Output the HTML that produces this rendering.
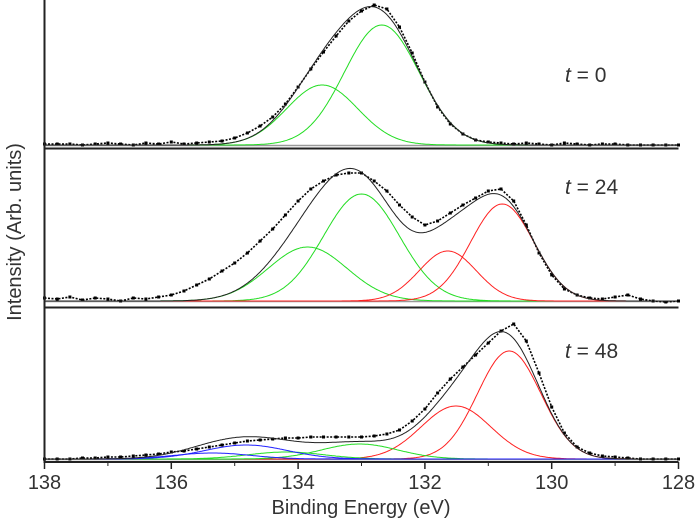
<!DOCTYPE html>
<html><head><meta charset="utf-8">
<style>
html,body{margin:0;padding:0;background:#fff;}
svg{display:block;font-family:"Liberation Sans",Arial,sans-serif;}
</style></head>
<body>
<svg id="chart" width="697" height="523" viewBox="0 0 697 523" xmlns="http://www.w3.org/2000/svg">
<g id="panels"></g>
<g id="axes"></g>
<text x="361" y="514" font-size="20" fill="#333" text-anchor="middle">Binding Energy (eV)</text>
<text transform="translate(21,232) rotate(-90)" font-size="20" fill="#333" text-anchor="middle">Intensity (Arb. units)</text>
</svg>
<script>
// ----- data -----
const xTicks = [138,136,134,132,130,128];
const xMinor = [137,135,133,131,129];
const panelLabels = ["0","24","48"];
// measured data, energies 138 -> 128 in 0.2 eV steps
const energies = [];
for (let i = 0; i <= 50; i++) energies.push(+(138 - i*0.2).toFixed(1));
const dataT0 = [1,1,1,0,1,2,1,0,2,1,3,1,2,3,4,7,12,19,28,41,58,76,93,109,124,134,140,136,118,92,63,38,21,11,5,3,2,1,2,1,0,2,1,0,1,1,0,0,0,0,0];
const dataT24 = [3,2,4,1,3,2,0,3,2,4,6,10,16,22,30,38,48,60,72,86,100,112,120,126,128,128,120,110,96,84,76,80,88,96,103,110,112,100,76,48,26,12,6,3,2,4,6,2,0,-1,0];
const dataT48 = [0,0,0,1,1,2,2,3,4,5,7,8,10,12,14,16,18,19,20,21,21,22,22,22,22,22,23,25,29,38,50,66,80,92,104,116,128,135,118,86,52,26,12,6,3,2,1,0,0,0,0];
// fitted components: centers (eV), amplitudes, widths (sigma, eV)
const t0Centers = [132.68,133.62];
const t0Amps = [120,60];
const t0Sigmas = [0.59,0.56];
const t0Colors = ["#22dd22","#22dd22"];
const t24Centers = [133.0,133.85,131.64,130.78];
const t24Amps = [107,54,50,97];
const t24Sigmas = [0.6,0.62,0.45,0.5];
const t24Colors = ["#22dd22","#22dd22","#ff2020","#ff2020"];
const t48Centers = [130.67,131.51,133.03,134.19,134.82,135.35];
const t48Amps = [108,53,15,7,14,6];
const t48Sigmas = [0.5,0.55,0.6,0.6,0.65,0.6];
const t48Colors = ["#ff2020","#ff2020","#22dd22","#22dd22","#2020ff","#2020ff"];

// ----- layout -----
const X0 = 44.5, X1 = 678.5;
const xs = e => X0 + (138 - e) * (X1 - X0) / 10;
const NS = "http://www.w3.org/2000/svg";
function mk(tag, attrs, parent){
  const el = document.createElementNS(NS, tag);
  for (const k in attrs) el.setAttribute(k, attrs[k]);
  parent.appendChild(el);
  return el;
}
const panelsG = document.getElementById('panels');
const axesG = document.getElementById('axes');
const panels = [
  {base:145, data:dataT0, c:t0Centers, a:t0Amps, s:t0Sigmas, col:t0Colors, labelY:82, name:"t0"},
  {base:301, data:dataT24, c:t24Centers, a:t24Amps, s:t24Sigmas, col:t24Colors, labelY:194, name:"t24"},
  {base:459, data:dataT48, c:t48Centers, a:t48Amps, s:t48Sigmas, col:t48Colors, labelY:358, name:"t48"}
];
const gauss = (e,c,a,s) => a*Math.exp(-((e-c)*(e-c))/(2*s*s));

panels.forEach((p, pi) => {
  const g = mk('g', {}, panelsG);
  
  
  const ys = v => p.base - v;
  const bl = mk('line', {x1:X0, x2:X1, y1:p.base+0.5, y2:p.base+0.5, stroke:"#999", "stroke-width":1.5}, g);
  
  
  p.c.forEach((c, i) => {
    let d = "";
    for (let e = 138; e >= 128; e -= 0.02) {
      d += (d ? "L" : "M") + xs(e).toFixed(1) + "," + ys(gauss(e, c, p.a[i], p.s[i])).toFixed(1);
    }
    const path = mk('path', {d:d, fill:"none", stroke:p.col[i], "stroke-width":1}, g);
    
    
  });
  let dd = "";
  p.data.forEach((v, i) => { dd += (dd ? "L" : "M") + xs(energies[i]).toFixed(1) + "," + ys(v).toFixed(1); });
  const trace = mk('path', {d:dd, fill:"none", stroke:"#000", "stroke-width":1.6, "stroke-dasharray":"2 1.5"}, g);
  
  
  p.data.forEach((v, i) => {
    const pt = mk('rect', {x:(xs(energies[i])-1.5).toFixed(1), y:(ys(v)-1.5).toFixed(1), width:3, height:3, fill:"#000"}, g);
    
    
  });
  let d = "";
  for (let e = 138; e >= 128; e -= 0.02) {
    let v = 0;
    p.c.forEach((c, i) => { v += gauss(e, c, p.a[i], p.s[i]); });
    d += (d ? "L" : "M") + xs(e).toFixed(1) + "," + ys(v).toFixed(1);
  }
  const fit = mk('path', {d:d, fill:"none", stroke:"#222", "stroke-width":1}, g);
  
  
  const t = mk('text', {x:565, y:p.labelY, "font-size":21, fill:"#333"}, g);
  
  
  const ti = mk('tspan', {"font-style":"italic"}, t); ti.textContent = "t";
  const tv = mk('tspan', {}, t); tv.textContent = " = " + panelLabels[pi];
});

[148.5, 307.5].forEach((y, i) => {
  const l = mk('line', {x1:X0, x2:X1, y1:y, y2:y, stroke:"#222", "stroke-width":2}, axesG);
  
  
});
const yAx = mk('line', {x1:X0, x2:X0, y1:0, y2:463, stroke:"#222", "stroke-width":2}, axesG);


const xAx = mk('line', {x1:X0-1, x2:X1, y1:462, y2:462, stroke:"#222", "stroke-width":2}, axesG);


xTicks.forEach(v => {
  const tk = mk('line', {x1:xs(v), x2:xs(v), y1:462, y2:469, stroke:"#222", "stroke-width":1.5}, axesG);
  
  
  const lb = mk('text', {x:xs(v), y:489, "font-size":20, fill:"#333", "text-anchor":"middle"}, axesG);
  
  
  lb.textContent = v;
});
xMinor.forEach(v => {
  const tk = mk('line', {x1:xs(v), x2:xs(v), y1:462, y2:466, stroke:"#222", "stroke-width":1}, axesG);
  
  
});
</script>
</body></html>
